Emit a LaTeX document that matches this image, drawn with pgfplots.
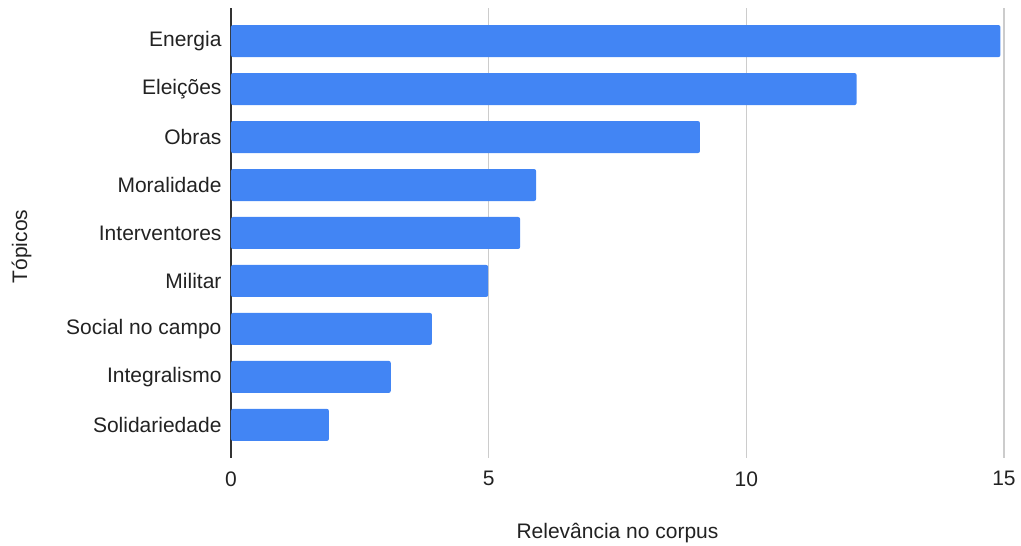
\documentclass[border=0pt]{standalone}
\usepackage{fontspec}
\setmainfont{Liberation Sans}
\usepackage{pgfplots}
\pgfplotsset{compat=1.18}
\definecolor{barblue}{HTML}{4285F4}
\definecolor{gridgray}{HTML}{CCCCCC}
\definecolor{txt}{HTML}{222222}
\definecolor{axisc}{HTML}{333333}
\begin{document}
\begin{tikzpicture}[x=1pt,y=1pt]
\path[use as bounding box] (0,0) rectangle (1021,546);
\begin{axis}[
  at={(231pt,88pt)}, anchor=south west,
  scale only axis, width=773pt, height=450pt,
  xmin=0, xmax=15, ymin=-0.69, ymax=8.69,
  xbar, bar width=32pt,
  xtick={0,5,10,15}, ytick={0,...,8},
  yticklabels={Solidariedade, Integralismo, Social no campo, Militar, Interventores, Moralidade, Obras, Eleições, Energia},
  xmajorgrids, grid style={gridgray, line width=1.2pt},
  axis lines*=left,
  x axis line style={draw=none},
  y axis line style={axisc, line width=1.2pt},
  major tick length=0pt,
  /pgf/number format/assume math mode=true,
  tick label style={font=\fontsize{21}{24}\selectfont, text=txt},
  xticklabel style={yshift=-10pt},
  yticklabel style={xshift=-6pt},
  label style={font=\fontsize{21}{24}\selectfont, text=txt},
  xlabel={Relevância no corpus},
  ylabel={Tópicos},
  xlabel style={at={(axis description cs:0.5,-0.166)}, anchor=center},
  ylabel style={at={(axis description cs:-0.271,0.47)}, anchor=center},
]
\addplot[fill=barblue, draw=none, rounded corners=2pt] coordinates {
  (1.90,0) (3.10,1) (3.90,2) (4.99,3) (5.61,4) (5.92,5) (9.10,6) (12.14,7) (14.93,8)
};
\end{axis}
\end{tikzpicture}
\end{document}
